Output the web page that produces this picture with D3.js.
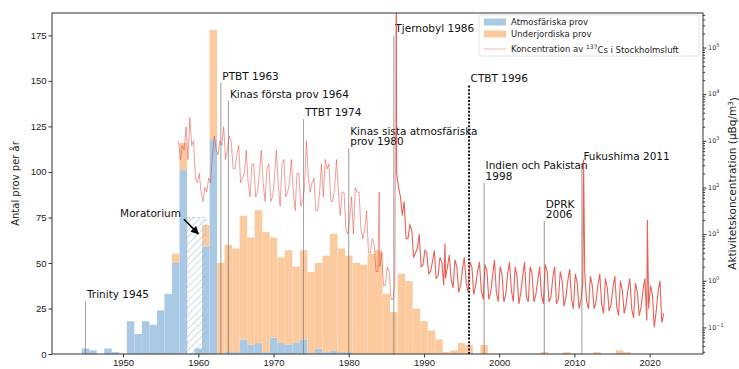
<!DOCTYPE html>
<html>
<head>
<meta charset="utf-8">
<script src="https://cdn.jsdelivr.net/npm/d3@7"></script>
<style>
  body { margin: 0; background: #fff; }
  svg { font-family: "DejaVu Sans", sans-serif; }
  .axis line { stroke: #333; }
  .axis text { fill: #222; font-size: 9.5px; }
  .ann { font-size: 10.5px; fill: #111; }
</style>
</head>
<body>
<div id="chart"></div>
<script>
// Tests per year, 1945-2017 (one value per year)
var firstYear = 1945;
var atmospheric = [
  3, 2, 0, 3, 1,                       // 1945-49
  0, 18, 11, 18, 16, 24, 33, 50, 101, 0,  // 1950-59
  3, 59, 118, 0, 1, 1, 8, 5, 6, 1,     // 1960-69
  9, 6, 5, 6, 8, 0, 3, 1, 2, 1,        // 1970-79
  1, 0, 0, 0, 0, 0, 0, 0, 0, 0,        // 1980-89
  0, 0, 0, 0, 0, 0, 0, 0, 0, 0,        // 1990-99
  0, 0, 0, 0, 0, 0, 0, 0, 0, 0,        // 2000-09
  0, 0, 0, 0, 0, 0, 0, 0               // 2010-17
];
var underground = [
  0, 0, 0, 0, 0,
  0, 0, 0, 0, 0, 0, 0, 5, 15, 0,
  0, 12, 60, 50, 59, 57, 68, 59, 73, 66,
  55, 47, 52, 42, 49, 45, 47, 53, 64, 57,
  53, 50, 49, 55, 57, 33, 23, 44, 40, 25,
  18, 13, 8, 1, 2, 6, 5, 0, 5, 0,
  0, 0, 0, 0, 0, 0, 1, 0, 0, 1,
  0, 0, 0, 1, 0, 0, 2, 1
];

// 137Cs in Stockholm air, log10(µBq/m3), quarterly from 1957 Q2
var csFirst = 1957.375;
var csStep = 0.25;
var csLog10 = [
  3.0, 2.6, 2.9,              // 1957
  2.8, 3.3, 2.6, 3.5,         // 1958
  2.9, 3.0, 2.2, 2.1,
  2.3, 1.9, 1.7, 2.0,         // 1960
  1.9, 2.2, 2.1, 2.7,
  3.1, 2.8, 2.7, 3.0,
  2.9, 3.3, 2.6, 2.8,
  3.1, 3.0, 2.4, 2.4,
  2.7, 2.9, 2.1, 2.2,
  2.3, 2.8, 2.1, 1.8,
  2.5, 2.5, 1.8, 1.9,
  2.3, 2.8, 2.1, 1.7,
  2.4, 2.5, 1.7, 1.8,
  2.2, 2.8, 2.1, 1.6,         // 1970
  2.5, 2.6, 1.8, 1.9,
  2.1, 2.6, 1.9, 1.5,
  2.3, 2.3, 1.6, 1.7,
  2.0, 3.0, 2.2, 1.9,
  2.1, 2.2, 1.5, 1.5,
  1.9, 2.5, 1.8, 2.6,
  2.4, 2.5, 1.7, 1.7,
  2.0, 2.6, 1.9, 1.4,
  1.9, 1.9, 1.1, 1.0,
  1.3, 1.8, 1.0, 2.0,         // 1980
  1.9, 1.9, 1.1, 0.9,
  1.1, 1.5, 0.6, 0.6,
  0.9, 0.8, 0.2, 0.2,
  0.3, 0.6, -0.1, -0.1,
  0.3, 0.2, -0.4, -0.4,
  -0.1, 2.3, 2.0, 1.8,
  1.4, 1.7, 0.9, 0.9,
  1.2, 1.1, 0.5, 0.6,
  0.7, 1.0, 0.3, 0.35,
  0.65, 0.6, 0.15, 0.2,       // 1990
  0.4, 0.65, 0.05, 0.1,
  0.5, 0.4, -0.1, 0.05,
  0.3, 0.55, 0.0, -0.15,
  0.45, 0.3, -0.25, -0.1,
  0.25, 0.5, -0.05, -0.25,
  0.4, 0.3, -0.3, -0.1,
  0.2, 0.4, -0.2, -0.4,
  0.35, 0.2, -0.4, -0.25,
  0.1, 0.45, -0.25, -0.45,
  0.3, 0.15, -0.45, -0.3,     // 2000
  0.15, 0.4, -0.2, -0.45,
  0.3, 0.1, -0.5, -0.25,
  0.1, 0.4, -0.35, -0.45,
  0.3, 0.15, -0.45, -0.3,
  0.0, 0.3, -0.3, -0.5,
  0.35, 0.2, -0.45, -0.35,
  0.05, 0.3, -0.5, -0.4,
  0.2, 0.0, -0.55, -0.35,
  0.0, 0.25, -0.4, -0.6,
  0.15, -0.05, -0.6, -0.4,    // 2010
  -0.05, 0.2, -0.45, -0.6,
  0.1, -0.1, -0.6, -0.45,
  -0.1, 0.15, -0.5, -0.7,
  0.05, -0.15, -0.65, -0.5,
  -0.15, 0.1, -0.55, -0.75,
  0.0, -0.2, -0.7, -0.5,
  -0.2, 0.05, -0.6, -0.8,
  -0.05, -0.25, -0.75, -0.55,
  -0.2, 0.05, -0.85, -0.6,
  -0.1, -0.3, -1.0, -0.65,    // 2020
  -0.25, 0.0, -0.9, -0.7
];
// single short peaks [year, log10 value]
var csSpikes = [[1984.05, 1.9], [1986.32, 5.9], [1992.8, 0.8], [2011.22, 2.6], [2019.7, 1.3]];
var chernobyl = 1986.32;

// events
var eventYears = [1945, 1963, 1964, 1974, 1980, 1986, 1996, 1998, 2006, 2011];
var eventTops = [29, 149, 139, 129, 113, 175, 148, 94, 73, 105];
var eventLabels = [
  ["Trinity 1945"], ["PTBT 1963"], ["Kinas första prov 1964"], ["TTBT 1974"],
  ["Kinas sista atmosfäriska", "prov 1980"], ["Tjernobyl 1986"], ["CTBT 1996"],
  ["Indien och Pakistan", "1998"], ["DPRK", "2006"], ["Fukushima 2011"]
];
var moratorium = [1958.5, 1961.0, 75];

var leftTicks = [0, 25, 50, 75, 100, 125, 150, 175];
var bottomTicks = [1950, 1960, 1970, 1980, 1990, 2000, 2010, 2020];
var rightExps = [-1, 0, 1, 2, 3, 4, 5];

var W = 739, H = 369;
var L = 52, R = 703, T = 13, B = 354;

var svg = d3.select("#chart").append("svg").attr("width", W).attr("height", H);

var x = d3.scaleLinear().domain([1940.55, 2027.1]).range([L, R]);
var yL = d3.scaleLinear().domain([0, 187.3]).range([B, T]);
var yR = d3.scaleLog().domain([Math.pow(10, -1.57), Math.pow(10, 5.74)]).range([B, T]);

var defs = svg.append("defs");
defs.append("clipPath").attr("id", "plot").append("rect")
  .attr("x", L).attr("y", T).attr("width", R - L).attr("height", B - T);
var pat = defs.append("pattern").attr("id", "hatch")
  .attr("patternUnits", "userSpaceOnUse").attr("width", 5).attr("height", 5)
  .attr("patternTransform", "rotate(45)");
pat.append("line").attr("x1", 0).attr("y1", 0).attr("x2", 0).attr("y2", 5)
  .attr("stroke", "#9fb6cb").attr("stroke-width", 1);

// stacked bars
var rows = atmospheric.map(function (a, i) {
  return { year: firstYear + i, atm: a, und: underground[i] };
});
var bars = svg.append("g");
bars.selectAll("rect.atm").data(rows.filter(function (d) { return d.atm > 0; }))
  .enter().append("rect").attr("class", "atm")
  .attr("x", function (d) { return x(d.year - 0.5); })
  .attr("width", function (d) { return x(d.year + 0.5) - x(d.year - 0.5); })
  .attr("y", function (d) { return yL(d.atm); })
  .attr("height", function (d) { return yL(0) - yL(d.atm); })
  .attr("fill", "#a9c9e4");
bars.selectAll("rect.und").data(rows.filter(function (d) { return d.und > 0; }))
  .enter().append("rect").attr("class", "und")
  .attr("x", function (d) { return x(d.year - 0.5); })
  .attr("width", function (d) { return x(d.year + 0.5) - x(d.year - 0.5); })
  .attr("y", function (d) { return yL(d.atm + d.und); })
  .attr("height", function (d) { return yL(d.atm) - yL(d.atm + d.und); })
  .attr("fill", "#fcca9f");

// moratorium hatch
svg.append("rect")
  .attr("x", x(moratorium[0])).attr("width", x(moratorium[1]) - x(moratorium[0]))
  .attr("y", yL(moratorium[2])).attr("height", yL(0) - yL(moratorium[2]))
  .attr("fill", "url(#hatch)").attr("stroke", "#b8c4ce").attr("stroke-width", 0.8)
  .attr("stroke-dasharray", "3,2");

// event lines
var ev = svg.append("g");
eventYears.forEach(function (yr, i) {
  var isCtbt = eventLabels[i][0].indexOf("CTBT") === 0;
  ev.append("line")
    .attr("x1", x(yr)).attr("x2", x(yr))
    .attr("y1", yL(0)).attr("y2", yL(eventTops[i]))
    .attr("stroke", isCtbt ? "#111" : "#666")
    .attr("stroke-width", isCtbt ? 2 : 0.8)
    .attr("stroke-dasharray", isCtbt ? "2,1.6" : null)
    .attr("opacity", isCtbt ? 1 : 0.8);
  var lines = eventLabels[i];
  lines.forEach(function (t, j) {
    ev.append("text").attr("class", "ann")
      .attr("x", x(yr) + 1.5)
      .attr("y", yL(eventTops[i]) - 3 - (lines.length - 1 - j) * 10.5)
      .text(t);
  });
});

// moratorium annotation
svg.append("text").attr("class", "ann")
  .attr("x", x(1957.7)).attr("y", yL(77)).attr("dy", "0.35em")
  .attr("text-anchor", "end").text("Moratorium");
defs.append("marker").attr("id", "arrow").attr("viewBox", "0 0 10 10")
  .attr("refX", 9).attr("refY", 5).attr("markerWidth", 5).attr("markerHeight", 5)
  .attr("orient", "auto")
  .append("path").attr("d", "M0,0L10,5L0,10z").attr("fill", "#000");
svg.append("line")
  .attr("x1", x(1958.1)).attr("y1", yL(74))
  .attr("x2", x(1960.0)).attr("y2", yL(66))
  .attr("stroke", "#000").attr("stroke-width", 1.6)
  .attr("marker-end", "url(#arrow)");

// concentration line (older part drawn paler, like the sparser early record)
var pts = csLog10.map(function (v, i) { return { t: csFirst + i * csStep, v: v }; });
csSpikes.forEach(function (s) { pts.push({ t: s[0], v: s[1] }); });
pts.sort(function (a, b) { return a.t - b.t; });
var line = d3.line()
  .x(function (d) { return x(d.t); })
  .y(function (d) { return yR(Math.pow(10, d.v)); });
var early = pts.filter(function (d) { return d.t <= chernobyl; });
var late = pts.filter(function (d) { return d.t >= chernobyl; });
svg.append("path").datum(early)
  .attr("clip-path", "url(#plot)").attr("d", line)
  .attr("fill", "none").attr("stroke", "#e2392f")
  .attr("stroke-width", 0.9).attr("stroke-opacity", 0.55);
svg.append("path").datum(late)
  .attr("clip-path", "url(#plot)").attr("d", line)
  .attr("fill", "none").attr("stroke", "#e2392f")
  .attr("stroke-width", 1.1).attr("stroke-opacity", 0.8);

// axes
svg.append("g").attr("class", "axis")
  .attr("transform", "translate(0," + B + ")")
  .call(d3.axisBottom(x).tickValues(bottomTicks).tickFormat(d3.format("d"))
    .tickSize(3.5).tickPadding(2))
  .call(function (g) { g.select(".domain").remove(); });
svg.append("g").attr("class", "axis")
  .attr("transform", "translate(" + L + ",0)")
  .call(d3.axisLeft(yL).tickValues(leftTicks).tickSize(3.5).tickPadding(2))
  .call(function (g) { g.select(".domain").remove(); });

var minor = [];
for (var e = -2; e <= 5; e++) {
  for (var k = 2; k <= 9; k++) {
    var v = k * Math.pow(10, e);
    if (v > yR.domain()[0] && v < yR.domain()[1]) minor.push(v);
  }
}
svg.append("g").attr("class", "axis")
  .attr("transform", "translate(" + R + ",0)")
  .call(d3.axisRight(yR).tickValues(minor).tickFormat("").tickSize(2))
  .call(function (g) { g.select(".domain").remove(); });
svg.append("g").attr("class", "axis")
  .attr("transform", "translate(" + R + ",0)")
  .call(d3.axisRight(yR).tickValues(rightExps.map(function (p) { return Math.pow(10, p); }))
    .tickFormat("").tickSize(3.5))
  .call(function (g) { g.select(".domain").remove(); });
rightExps.forEach(function (p) {
  var t = svg.append("text").attr("x", R + 5).attr("y", yR(Math.pow(10, p)))
    .attr("dy", "0.35em").attr("font-size", "6.5px").attr("fill", "#333").text("10");
  t.append("tspan").attr("dy", "-0.6em").attr("font-size", "5px")
    .text(p < 0 ? "\u2212" + (-p) : p);
});

// frame
svg.append("rect").attr("x", L).attr("y", T).attr("width", R - L).attr("height", B - T)
  .attr("fill", "none").attr("stroke", "#333").attr("stroke-width", 1);

// axis titles
svg.append("text").attr("transform", "translate(19," + ((T + B) / 2) + ") rotate(-90)")
  .attr("text-anchor", "middle").attr("font-size", "10px").attr("fill", "#222")
  .text("Antal prov per år");
var rt = svg.append("text").attr("transform", "translate(736," + ((T + B) / 2) + ") rotate(-90)")
  .attr("text-anchor", "middle").attr("font-size", "10.5px").attr("fill", "#222")
  .text("Aktivitetskoncentration (µBq/m");
rt.append("tspan").attr("dy", "-0.5em").attr("font-size", "7px").text("3");
rt.append("tspan").attr("dy", "0.5em").text(")");

// legend
var lg = svg.append("g");
lg.append("rect").attr("x", 479).attr("y", 15).attr("width", 220).attr("height", 41)
  .attr("rx", 2).attr("fill", "#fff").attr("fill-opacity", 0.8)
  .attr("stroke", "#ddd").attr("stroke-width", 0.8);
var legRows = [22, 34, 49];
lg.append("rect").attr("x", 484).attr("y", legRows[0] - 3.5).attr("width", 22).attr("height", 7)
  .attr("fill", "#a9c9e4");
lg.append("rect").attr("x", 484).attr("y", legRows[1] - 3.5).attr("width", 22).attr("height", 7)
  .attr("fill", "#fcca9f");
lg.append("line").attr("x1", 484).attr("x2", 506).attr("y1", legRows[2]).attr("y2", legRows[2])
  .attr("stroke", "#e2392f").attr("stroke-opacity", 0.3).attr("stroke-width", 1.2);
var legText = ["Atmosfäriska prov", "Underjordiska prov"];
legText.forEach(function (t, i) {
  lg.append("text").attr("x", 511).attr("y", legRows[i]).attr("dy", "0.35em")
    .attr("font-size", "8.5px").attr("fill", "#222").text(t);
});
var l3 = lg.append("text").attr("x", 511).attr("y", legRows[2]).attr("dy", "0.35em")
  .attr("font-size", "8.5px").attr("fill", "#222").text("Koncentration av ");
l3.append("tspan").attr("dy", "-0.5em").attr("font-size", "6px").text("137");
l3.append("tspan").attr("dy", "0.5em").text("Cs i Stockholmsluft");
</script>
</body>
</html>
